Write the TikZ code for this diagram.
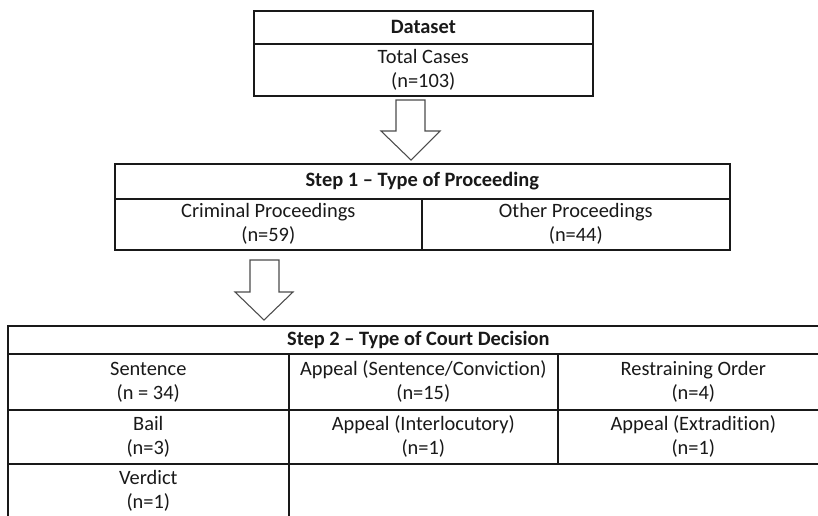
\documentclass[tikz,border=0pt]{standalone}
\usepackage{fontspec}
\setmainfont[Ligatures={TeX,NoCommon}]{Carlito}
\begin{document}
\begin{tikzpicture}[x=0.75pt,y=-0.75pt]
\tikzset{
  sz/.style 2 args={minimum width={#1*0.75pt},minimum height={#2*0.75pt}},
  cell/.style={draw=black!90,line width=1.2pt,anchor=north west,inner sep=0pt,
    align=center,font=\fontsize{15.3}{18}\selectfont,text=black!90},
  blockarrow/.style={draw=black!70,line width=0.8pt,fill=white,line join=miter}
}
\clip (0,0) rectangle (818,515);
\fill[white] (0,0) rectangle (818,515);
% Dataset
\node[cell,sz={339}{33}] (ds) at (253,10) {\bfseries Dataset};
\node[cell,sz={339}{52}] (tc) at (253,43) {Total Cases\\(n=103)};
% arrow 1
\draw[blockarrow] (396,100) -- (425,100) -- (425,131) -- (440,131) -- (411,160) -- (381,131) -- (396,131) -- cycle;
% Step 1
\node[cell,sz={615}{35}] (s1) at (114,163) {\bfseries Step 1 -- Type of Proceeding};
\node[cell,sz={307}{51}] (crim) at (114,198) {Criminal Proceedings\\(n=59)};
\node[cell,sz={308}{51}] (oth) at (421,198) {Other Proceedings\\(n=44)};
% arrow 2
\draw[blockarrow] (250,260) -- (279,260) -- (279,292) -- (293,292) -- (264,320) -- (235,292) -- (250,292) -- cycle;
% Step 2
\node[cell,sz={821}{28}] (s2) at (7,325) {\bfseries Step 2 -- Type of Court Decision};
\node[cell,sz={281}{56}] (sen) at (7,353) {Sentence\\(n = 34)};
\node[cell,sz={269}{56}] (aps) at (288,353) {Appeal (Sentence/Conviction)\\(n=15)};
\node[cell,sz={271}{56}] (ro) at (557,353) {Restraining Order\\(n=4)};
\node[cell,sz={281}{54}] (bail) at (7,409) {Bail\\(n=3)};
\node[cell,sz={269}{54}] (api) at (288,409) {Appeal (Interlocutory)\\(n=1)};
\node[cell,sz={271}{54}] (ape) at (557,409) {Appeal (Extradition)\\(n=1)};
\node[cell,sz={281}{54}] (ver) at (7,463) {Verdict\\(n=1)};
\end{tikzpicture}
\end{document}
